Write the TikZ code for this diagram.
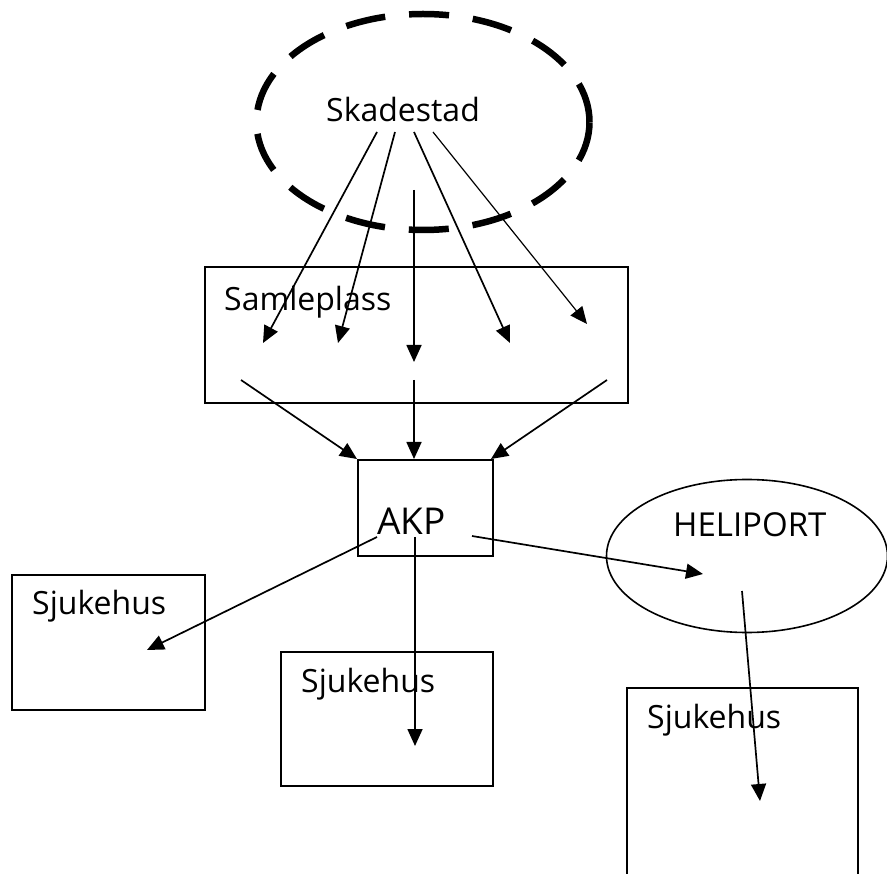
\documentclass[tikz,border=0pt]{standalone}
\usepackage{fontspec}
\setmainfont{Open Sans}
\usetikzlibrary{shapes.geometric,arrows.meta}
\begin{document}
\begin{tikzpicture}[x=1pt,y=-1pt,
  box/.style={draw,line width=1.6pt,rectangle,inner sep=0pt,anchor=north west},
  lbl/.style={inner sep=0pt,anchor=base west,font=\fontsize{32}{38}\selectfont},
  arr/.style={line width=1.7pt,-{Triangle[length=17pt,width=15pt]}},
  thinarr/.style={line width=1.2pt,-{Triangle[length=17pt,width=15pt]}}]
\useasboundingbox (0,0) rectangle (887,874);
\clip (0,0) rectangle (887,874);
% shapes
\node[draw,ellipse,line width=6.5pt,dash pattern=on 40pt off 24pt,minimum width=333pt,minimum height=216pt,inner sep=0pt] (skade) at (423,122) {};
\node[box,minimum width=423pt,minimum height=136pt] (samle) at (204,266) {};
\node[box,minimum width=135pt,minimum height=96pt] (akp) at (357,459) {};
\node[box,minimum width=193pt,minimum height=135pt] (sj1) at (11,574) {};
\node[box,minimum width=212pt,minimum height=134pt] (sj2) at (280,651) {};
\node[box,minimum width=231pt,minimum height=220pt] (sj3) at (626,687) {};
\node[draw,ellipse,line width=1.6pt,minimum width=281pt,minimum height=153pt,inner sep=0pt] (heli) at (747,556) {};
% labels
\node[lbl] (tskade) at (326,122) {Skadestad};
\node[lbl] (tsamle) at (224,311) {Samleplass};
\node[lbl,font=\fontsize{37}{44}\selectfont] (takp) at (377,535) {AKP};
\node[lbl] (tsj1) at (32,615) {Sjukehus};
\node[lbl] (tsj2) at (301,692) {Sjukehus};
\node[lbl] (tsj3) at (647,728) {Sjukehus};
\node[lbl,font=\fontsize{33}{40}\selectfont] (theli) at (673,537) {HELIPORT};
% arrow end points
\coordinate (s1) at (377,132); \coordinate (e1) at (263,343);
\coordinate (s2) at (395,132); \coordinate (e2) at (338,343);
\coordinate (s3) at (414,190); \coordinate (e3) at (414,362);
\coordinate (s4) at (414,132); \coordinate (e4) at (510,343);
\coordinate (s5) at (433,132); \coordinate (e5) at (587,324);
\coordinate (m1) at (241,380); \coordinate (f1) at (357,459);
\coordinate (m2) at (414,380); \coordinate (f2) at (414,459);
\coordinate (m3) at (607,380); \coordinate (f3) at (491,459);
\coordinate (a1) at (377,537); \coordinate (g1) at (147,650);
\coordinate (a2) at (415,537); \coordinate (g2) at (415,746);
\coordinate (a3) at (472,536); \coordinate (g3) at (703,574);
\coordinate (h1) at (742,591); \coordinate (g4) at (760,801);
% arrows
\draw[arr] (s1) -- (e1);
\draw[arr] (s2) -- (e2);
\draw[arr] (s3) -- (e3);
\draw[arr] (s4) -- (e4);
\draw[thinarr] (s5) -- (e5);
\draw[arr] (m1) -- (f1);
\draw[arr] (m2) -- (f2);
\draw[arr] (m3) -- (f3);
\draw[arr] (a1) -- (g1);
\draw[arr] (a2) -- (g2);
\draw[arr] (a3) -- (g3);
\draw[arr] (h1) -- (g4);
\end{tikzpicture}
\end{document}
